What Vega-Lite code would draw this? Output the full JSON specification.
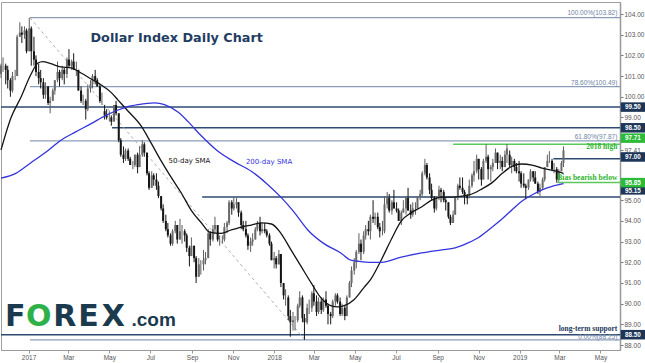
{
 "$schema": "https://vega.github.io/schema/vega-lite/v6.json",
 "width": 619, "height": 348,
 "autosize": {"type": "none"},
 "padding": {"left": 1, "top": 2, "right": 25, "bottom": 13},
 "background": "white",
 "config": {"view": {"stroke": "#a0a0a0", "strokeWidth": 1}, "font": "Liberation Sans"},
 "datasets": {
  "lv": [
   {"p":103.82,"t":"2017-01-03","e":"2019-05-30","k":"f"},
   {"p":100.49,"t":"2017-01-03","e":"2019-05-30","k":"f"},
   {"p":97.87,"t":"2017-01-03","e":"2019-05-30","k":"f"},
   {"p":88.25,"t":"2017-01-03","e":"2019-05-30","k":"f"},
   {"p":99.5,"t":"2016-11-21","e":"2019-05-30","k":"n"},
   {"p":98.5,"t":"2017-05-05","e":"2019-05-30","k":"n"},
   {"p":97.0,"t":"2019-02-20","e":"2019-05-30","k":"n"},
   {"p":95.15,"t":"2017-09-16","e":"2019-05-30","k":"n"},
   {"p":88.5,"t":"2016-11-21","e":"2019-05-30","k":"n"},
   {"p":97.71,"t":"2018-09-24","e":"2019-05-30","k":"g"},
   {"p":95.85,"t":"2019-02-26","e":"2019-05-30","k":"g"}
  ],
  "cd": [
   {"t":"2016-11-21","o":101.1,"h":101.6,"l":100.9,"c":101.5},
   {"t":"2016-11-24","o":101.5,"h":101.9,"l":101.2,"c":101.5},
   {"t":"2016-11-28","o":101.5,"h":101.6,"l":100.6,"c":101.3},
   {"t":"2016-12-01","o":101.3,"h":101.5,"l":100.4,"c":100.8},
   {"t":"2016-12-05","o":100.8,"h":100.9,"l":100.0,"c":100.3},
   {"t":"2016-12-08","o":100.3,"h":101.2,"l":100.2,"c":101.0},
   {"t":"2016-12-12","o":101.0,"h":101.3,"l":100.8,"c":101.0},
   {"t":"2016-12-15","o":101.0,"h":103.0,"l":101.0,"c":102.9},
   {"t":"2016-12-19","o":102.9,"h":103.6,"l":102.9,"c":103.1},
   {"t":"2016-12-22","o":103.1,"h":103.4,"l":102.6,"c":103.0},
   {"t":"2016-12-26","o":103.0,"h":103.4,"l":102.8,"c":103.2},
   {"t":"2016-12-29","o":103.2,"h":103.3,"l":102.1,"c":102.2},
   {"t":"2017-01-02","o":102.2,"h":103.82,"l":102.2,"c":103.3},
   {"t":"2017-01-05","o":103.3,"h":103.4,"l":101.5,"c":102.2},
   {"t":"2017-01-09","o":102.2,"h":102.9,"l":101.5,"c":101.8},
   {"t":"2017-01-12","o":101.8,"h":102.0,"l":101.0,"c":101.2},
   {"t":"2017-01-16","o":101.2,"h":101.6,"l":100.6,"c":100.9},
   {"t":"2017-01-19","o":100.9,"h":101.3,"l":100.4,"c":100.7},
   {"t":"2017-01-23","o":100.7,"h":100.9,"l":99.9,"c":100.1},
   {"t":"2017-01-26","o":100.1,"h":100.7,"l":99.9,"c":100.5},
   {"t":"2017-01-30","o":100.5,"h":100.5,"l":99.6,"c":99.7},
   {"t":"2017-02-02","o":99.7,"h":100.0,"l":99.2,"c":99.8},
   {"t":"2017-02-06","o":99.8,"h":100.4,"l":99.8,"c":100.3},
   {"t":"2017-02-09","o":100.3,"h":100.8,"l":100.1,"c":100.8},
   {"t":"2017-02-13","o":100.8,"h":101.7,"l":100.7,"c":101.2},
   {"t":"2017-02-16","o":101.2,"h":101.3,"l":100.5,"c":100.9},
   {"t":"2017-02-20","o":100.9,"h":101.5,"l":100.8,"c":101.3},
   {"t":"2017-02-23","o":101.3,"h":101.4,"l":100.6,"c":101.1},
   {"t":"2017-02-27","o":101.1,"h":101.9,"l":100.9,"c":101.8},
   {"t":"2017-03-02","o":101.8,"h":102.3,"l":101.4,"c":101.5},
   {"t":"2017-03-06","o":101.5,"h":101.8,"l":101.3,"c":101.7},
   {"t":"2017-03-09","o":101.7,"h":102.1,"l":101.3,"c":101.3},
   {"t":"2017-03-13","o":101.3,"h":101.7,"l":101.0,"c":101.3},
   {"t":"2017-03-16","o":101.3,"h":101.3,"l":100.3,"c":100.3},
   {"t":"2017-03-20","o":100.3,"h":100.5,"l":99.7,"c":99.8},
   {"t":"2017-03-23","o":99.8,"h":100.1,"l":99.6,"c":99.8},
   {"t":"2017-03-27","o":99.8,"h":99.9,"l":98.9,"c":99.4},
   {"t":"2017-03-30","o":99.4,"h":100.6,"l":99.3,"c":100.4},
   {"t":"2017-04-03","o":100.4,"h":100.8,"l":100.2,"c":100.6},
   {"t":"2017-04-06","o":100.6,"h":101.1,"l":100.4,"c":101.0},
   {"t":"2017-04-10","o":101.0,"h":101.3,"l":100.6,"c":100.8},
   {"t":"2017-04-13","o":100.8,"h":100.9,"l":100.5,"c":100.5},
   {"t":"2017-04-17","o":100.5,"h":100.6,"l":99.7,"c":99.8},
   {"t":"2017-04-20","o":99.8,"h":100.2,"l":99.6,"c":99.8},
   {"t":"2017-04-24","o":99.3,"h":99.6,"l":98.9,"c":99.1},
   {"t":"2017-04-27","o":99.1,"h":99.4,"l":98.9,"c":99.0},
   {"t":"2017-05-01","o":99.0,"h":99.3,"l":98.8,"c":99.0},
   {"t":"2017-05-04","o":99.0,"h":99.1,"l":98.6,"c":98.8},
   {"t":"2017-05-08","o":98.8,"h":99.6,"l":98.8,"c":99.6},
   {"t":"2017-05-11","o":99.6,"h":99.8,"l":99.1,"c":99.2},
   {"t":"2017-05-15","o":99.2,"h":99.2,"l":97.8,"c":97.9},
   {"t":"2017-05-18","o":97.9,"h":98.0,"l":97.1,"c":97.2},
   {"t":"2017-05-22","o":97.2,"h":97.6,"l":96.8,"c":97.0},
   {"t":"2017-05-25","o":97.0,"h":97.5,"l":96.9,"c":97.4},
   {"t":"2017-05-29","o":97.4,"h":97.5,"l":96.9,"c":97.0},
   {"t":"2017-06-01","o":97.0,"h":97.1,"l":96.7,"c":96.7},
   {"t":"2017-06-05","o":96.7,"h":96.9,"l":96.5,"c":96.7},
   {"t":"2017-06-08","o":96.7,"h":97.2,"l":96.6,"c":97.2},
   {"t":"2017-06-12","o":97.2,"h":97.3,"l":96.3,"c":96.6},
   {"t":"2017-06-15","o":96.6,"h":97.6,"l":96.6,"c":97.2},
   {"t":"2017-06-19","o":97.2,"h":97.9,"l":97.1,"c":97.7},
   {"t":"2017-06-22","o":97.7,"h":97.8,"l":97.1,"c":97.3},
   {"t":"2017-06-26","o":97.3,"h":97.3,"l":96.2,"c":96.3},
   {"t":"2017-06-29","o":96.3,"h":96.4,"l":95.5,"c":95.6},
   {"t":"2017-07-03","o":95.6,"h":96.4,"l":95.6,"c":96.2},
   {"t":"2017-07-06","o":96.2,"h":96.3,"l":95.7,"c":96.0},
   {"t":"2017-07-10","o":96.0,"h":96.3,"l":95.5,"c":95.7},
   {"t":"2017-07-13","o":95.7,"h":95.9,"l":95.1,"c":95.2},
   {"t":"2017-07-17","o":95.2,"h":95.2,"l":94.5,"c":94.6},
   {"t":"2017-07-20","o":94.6,"h":94.8,"l":93.9,"c":94.0},
   {"t":"2017-07-24","o":94.0,"h":94.3,"l":93.5,"c":93.6},
   {"t":"2017-07-27","o":93.6,"h":93.9,"l":93.2,"c":93.3},
   {"t":"2017-07-31","o":93.3,"h":93.4,"l":92.8,"c":92.9},
   {"t":"2017-08-03","o":92.9,"h":93.6,"l":92.8,"c":93.5},
   {"t":"2017-08-07","o":93.5,"h":94.0,"l":93.4,"c":93.8},
   {"t":"2017-08-10","o":93.8,"h":93.8,"l":92.9,"c":93.1},
   {"t":"2017-08-14","o":93.1,"h":94.1,"l":93.1,"c":93.5},
   {"t":"2017-08-17","o":93.5,"h":93.8,"l":92.9,"c":93.5},
   {"t":"2017-08-21","o":93.5,"h":93.6,"l":93.0,"c":93.3},
   {"t":"2017-08-24","o":93.3,"h":93.4,"l":92.5,"c":92.7},
   {"t":"2017-08-28","o":92.7,"h":92.8,"l":91.8,"c":92.3},
   {"t":"2017-08-31","o":92.3,"h":93.2,"l":92.3,"c":92.8},
   {"t":"2017-09-04","o":92.8,"h":92.8,"l":92.0,"c":92.2},
   {"t":"2017-09-07","o":92.2,"h":92.3,"l":91.0,"c":91.3},
   {"t":"2017-09-11","o":91.3,"h":92.2,"l":91.3,"c":91.9},
   {"t":"2017-09-14","o":91.9,"h":92.1,"l":91.4,"c":91.9},
   {"t":"2017-09-18","o":91.9,"h":92.6,"l":91.6,"c":92.1},
   {"t":"2017-09-21","o":92.1,"h":92.5,"l":91.9,"c":92.2},
   {"t":"2017-09-25","o":92.2,"h":93.6,"l":92.2,"c":93.4},
   {"t":"2017-09-28","o":93.4,"h":93.5,"l":92.8,"c":93.1},
   {"t":"2017-10-02","o":93.1,"h":93.8,"l":93.0,"c":93.6},
   {"t":"2017-10-05","o":93.6,"h":94.2,"l":93.4,"c":93.8},
   {"t":"2017-10-09","o":93.8,"h":93.8,"l":93.0,"c":93.1},
   {"t":"2017-10-12","o":93.1,"h":93.3,"l":92.8,"c":93.1},
   {"t":"2017-10-16","o":93.1,"h":93.3,"l":92.9,"c":93.1},
   {"t":"2017-10-19","o":93.1,"h":93.9,"l":93.0,"c":93.7},
   {"t":"2017-10-23","o":93.7,"h":94.0,"l":93.4,"c":93.9},
   {"t":"2017-10-26","o":93.9,"h":95.0,"l":93.8,"c":94.9},
   {"t":"2017-10-30","o":94.9,"h":95.0,"l":94.3,"c":94.6},
   {"t":"2017-11-02","o":94.6,"h":95.15,"l":94.5,"c":94.8},
   {"t":"2017-11-06","o":94.8,"h":95.1,"l":94.6,"c":94.9},
   {"t":"2017-11-09","o":94.9,"h":94.9,"l":94.2,"c":94.4},
   {"t":"2017-11-13","o":94.4,"h":94.5,"l":93.6,"c":93.8},
   {"t":"2017-11-16","o":93.8,"h":94.0,"l":93.5,"c":93.6},
   {"t":"2017-11-20","o":93.6,"h":94.0,"l":93.2,"c":93.3},
   {"t":"2017-11-23","o":93.3,"h":93.4,"l":92.6,"c":92.8},
   {"t":"2017-11-27","o":92.8,"h":93.2,"l":92.5,"c":93.0},
   {"t":"2017-11-30","o":93.0,"h":93.4,"l":92.8,"c":93.1},
   {"t":"2017-12-04","o":93.1,"h":93.7,"l":93.1,"c":93.6},
   {"t":"2017-12-07","o":93.6,"h":94.0,"l":93.5,"c":93.9},
   {"t":"2017-12-11","o":93.9,"h":94.2,"l":93.3,"c":93.5},
   {"t":"2017-12-14","o":93.5,"h":93.9,"l":93.4,"c":93.6},
   {"t":"2017-12-18","o":93.6,"h":93.9,"l":93.4,"c":93.5},
   {"t":"2017-12-21","o":93.5,"h":93.6,"l":93.2,"c":93.3},
   {"t":"2017-12-25","o":93.3,"h":93.4,"l":92.8,"c":92.9},
   {"t":"2017-12-28","o":92.9,"h":93.0,"l":92.1,"c":92.1},
   {"t":"2018-01-01","o":92.1,"h":92.5,"l":91.7,"c":92.2},
   {"t":"2018-01-04","o":92.2,"h":92.3,"l":91.7,"c":91.9},
   {"t":"2018-01-08","o":91.9,"h":92.6,"l":91.9,"c":92.4},
   {"t":"2018-01-11","o":92.4,"h":92.4,"l":90.8,"c":91.0},
   {"t":"2018-01-15","o":91.0,"h":91.0,"l":90.2,"c":90.4},
   {"t":"2018-01-18","o":90.4,"h":90.7,"l":89.9,"c":90.4},
   {"t":"2018-01-22","o":90.3,"h":90.4,"l":89.2,"c":89.4},
   {"t":"2018-01-25","o":89.4,"h":89.7,"l":88.4,"c":89.1},
   {"t":"2018-01-29","o":89.1,"h":89.6,"l":88.7,"c":89.2},
   {"t":"2018-02-01","o":89.2,"h":89.4,"l":88.7,"c":89.2},
   {"t":"2018-02-05","o":89.2,"h":90.0,"l":89.1,"c":89.9},
   {"t":"2018-02-08","o":89.9,"h":90.6,"l":89.8,"c":90.3},
   {"t":"2018-02-12","o":90.3,"h":90.4,"l":89.1,"c":89.3},
   {"t":"2018-02-15","o":89.3,"h":89.5,"l":88.25,"c":89.1},
   {"t":"2018-02-19","o":89.1,"h":90.0,"l":89.0,"c":89.8},
   {"t":"2018-02-22","o":89.8,"h":90.2,"l":89.5,"c":89.8},
   {"t":"2018-02-26","o":89.8,"h":90.6,"l":89.6,"c":90.5},
   {"t":"2018-03-01","o":90.5,"h":90.9,"l":89.9,"c":90.1},
   {"t":"2018-03-05","o":90.1,"h":90.4,"l":89.4,"c":89.6},
   {"t":"2018-03-08","o":89.6,"h":90.3,"l":89.5,"c":90.1},
   {"t":"2018-03-12","o":90.1,"h":90.3,"l":89.5,"c":89.7},
   {"t":"2018-03-15","o":89.7,"h":90.3,"l":89.6,"c":90.2},
   {"t":"2018-03-19","o":90.2,"h":90.6,"l":89.8,"c":89.9},
   {"t":"2018-03-22","o":89.9,"h":90.0,"l":89.0,"c":89.5},
   {"t":"2018-03-26","o":89.5,"h":89.6,"l":89.0,"c":89.4},
   {"t":"2018-03-29","o":89.4,"h":90.2,"l":89.3,"c":90.1},
   {"t":"2018-04-02","o":90.1,"h":90.5,"l":89.9,"c":90.4},
   {"t":"2018-04-05","o":90.4,"h":90.5,"l":90.0,"c":90.1},
   {"t":"2018-04-09","o":90.1,"h":90.3,"l":89.4,"c":89.5},
   {"t":"2018-04-12","o":89.5,"h":90.0,"l":89.4,"c":89.8},
   {"t":"2018-04-16","o":89.8,"h":89.9,"l":89.2,"c":89.4},
   {"t":"2018-04-19","o":89.4,"h":90.4,"l":89.4,"c":90.3},
   {"t":"2018-04-23","o":90.3,"h":91.1,"l":90.3,"c":91.0},
   {"t":"2018-04-26","o":91.0,"h":91.8,"l":90.8,"c":91.6},
   {"t":"2018-04-30","o":91.6,"h":92.2,"l":91.4,"c":92.0},
   {"t":"2018-05-03","o":92.0,"h":92.6,"l":91.7,"c":92.5},
   {"t":"2018-05-07","o":92.5,"h":93.4,"l":92.4,"c":92.9},
   {"t":"2018-05-10","o":92.9,"h":93.1,"l":92.1,"c":92.5},
   {"t":"2018-05-14","o":92.5,"h":93.5,"l":92.4,"c":93.3},
   {"t":"2018-05-17","o":93.3,"h":93.8,"l":93.1,"c":93.6},
   {"t":"2018-05-21","o":93.6,"h":94.0,"l":93.3,"c":93.5},
   {"t":"2018-05-24","o":93.5,"h":94.3,"l":93.1,"c":94.2},
   {"t":"2018-05-28","o":94.2,"h":95.0,"l":93.9,"c":94.1},
   {"t":"2018-05-31","o":94.1,"h":94.4,"l":93.8,"c":94.2},
   {"t":"2018-06-04","o":94.2,"h":94.4,"l":93.6,"c":93.7},
   {"t":"2018-06-07","o":93.7,"h":93.9,"l":93.2,"c":93.5},
   {"t":"2018-06-11","o":93.5,"h":94.0,"l":93.3,"c":93.5},
   {"t":"2018-06-14","o":93.5,"h":95.2,"l":93.4,"c":94.8},
   {"t":"2018-06-18","o":94.8,"h":95.4,"l":94.6,"c":95.1},
   {"t":"2018-06-21","o":95.1,"h":95.3,"l":94.4,"c":94.5},
   {"t":"2018-06-25","o":94.5,"h":95.0,"l":94.3,"c":94.9},
   {"t":"2018-06-28","o":94.9,"h":95.5,"l":94.6,"c":94.6},
   {"t":"2018-07-02","o":94.6,"h":94.9,"l":94.4,"c":94.5},
   {"t":"2018-07-05","o":94.5,"h":94.6,"l":94.0,"c":94.0},
   {"t":"2018-07-09","o":94.0,"h":94.5,"l":93.8,"c":94.4},
   {"t":"2018-07-12","o":94.4,"h":95.0,"l":94.4,"c":94.6},
   {"t":"2018-07-16","o":94.6,"h":95.2,"l":94.3,"c":95.1},
   {"t":"2018-07-19","o":95.1,"h":95.6,"l":94.5,"c":94.5},
   {"t":"2018-07-23","o":94.5,"h":94.8,"l":94.1,"c":94.3},
   {"t":"2018-07-26","o":94.3,"h":94.9,"l":94.2,"c":94.6},
   {"t":"2018-07-30","o":94.6,"h":94.9,"l":94.3,"c":94.6},
   {"t":"2018-08-02","o":94.6,"h":95.2,"l":94.6,"c":95.2},
   {"t":"2018-08-06","o":95.2,"h":95.5,"l":95.0,"c":95.3},
   {"t":"2018-08-09","o":95.3,"h":96.4,"l":95.2,"c":96.3},
   {"t":"2018-08-13","o":96.3,"h":97.0,"l":96.2,"c":96.7},
   {"t":"2018-08-16","o":96.7,"h":96.8,"l":96.0,"c":96.1},
   {"t":"2018-08-20","o":96.1,"h":96.3,"l":95.3,"c":95.5},
   {"t":"2018-08-23","o":95.5,"h":95.8,"l":95.0,"c":95.1},
   {"t":"2018-08-27","o":95.1,"h":95.2,"l":94.4,"c":94.6},
   {"t":"2018-08-30","o":94.6,"h":95.2,"l":94.5,"c":95.1},
   {"t":"2018-09-03","o":95.1,"h":95.7,"l":95.0,"c":95.5},
   {"t":"2018-09-06","o":95.5,"h":95.6,"l":94.9,"c":95.4},
   {"t":"2018-09-10","o":95.4,"h":95.5,"l":94.9,"c":95.0},
   {"t":"2018-09-13","o":95.0,"h":95.1,"l":94.5,"c":94.9},
   {"t":"2018-09-17","o":94.9,"h":94.9,"l":94.1,"c":94.2},
   {"t":"2018-09-20","o":94.2,"h":94.3,"l":93.8,"c":93.9},
   {"t":"2018-09-24","o":93.9,"h":94.5,"l":93.9,"c":94.3},
   {"t":"2018-09-27","o":94.3,"h":95.2,"l":94.3,"c":95.1},
   {"t":"2018-10-01","o":95.1,"h":95.8,"l":95.0,"c":95.7},
   {"t":"2018-10-04","o":95.7,"h":96.1,"l":95.5,"c":95.6},
   {"t":"2018-10-08","o":95.6,"h":96.1,"l":95.3,"c":95.4},
   {"t":"2018-10-11","o":95.4,"h":95.5,"l":94.8,"c":95.2},
   {"t":"2018-10-15","o":95.2,"h":95.3,"l":94.8,"c":95.1},
   {"t":"2018-10-18","o":95.1,"h":96.0,"l":95.1,"c":95.7},
   {"t":"2018-10-22","o":95.7,"h":96.3,"l":95.6,"c":96.2},
   {"t":"2018-10-25","o":96.2,"h":96.9,"l":95.9,"c":96.4},
   {"t":"2018-10-29","o":96.4,"h":97.2,"l":96.3,"c":97.0},
   {"t":"2018-11-01","o":97.0,"h":97.0,"l":96.0,"c":96.5},
   {"t":"2018-11-05","o":96.5,"h":96.6,"l":95.7,"c":96.0},
   {"t":"2018-11-08","o":96.0,"h":97.0,"l":96.0,"c":96.9},
   {"t":"2018-11-12","o":96.9,"h":97.7,"l":96.8,"c":97.1},
   {"t":"2018-11-15","o":97.1,"h":97.2,"l":96.0,"c":96.5},
   {"t":"2018-11-19","o":96.5,"h":96.7,"l":95.9,"c":96.6},
   {"t":"2018-11-22","o":96.6,"h":97.0,"l":96.4,"c":96.8},
   {"t":"2018-11-26","o":96.8,"h":97.5,"l":96.8,"c":97.3},
   {"t":"2018-11-29","o":97.3,"h":97.3,"l":96.5,"c":96.8},
   {"t":"2018-12-03","o":96.8,"h":97.2,"l":96.5,"c":96.9},
   {"t":"2018-12-06","o":96.9,"h":97.1,"l":96.4,"c":96.6},
   {"t":"2018-12-10","o":96.6,"h":97.4,"l":96.6,"c":97.2},
   {"t":"2018-12-13","o":97.2,"h":97.71,"l":96.8,"c":97.5},
   {"t":"2018-12-17","o":97.2,"h":97.4,"l":96.6,"c":96.7},
   {"t":"2018-12-20","o":96.7,"h":97.1,"l":96.3,"c":96.9},
   {"t":"2018-12-24","o":96.9,"h":97.0,"l":96.4,"c":96.6},
   {"t":"2018-12-27","o":96.6,"h":96.8,"l":96.3,"c":96.4},
   {"t":"2018-12-31","o":96.4,"h":96.9,"l":95.9,"c":96.3},
   {"t":"2019-01-03","o":96.3,"h":96.4,"l":95.6,"c":95.8},
   {"t":"2019-01-07","o":95.8,"h":96.3,"l":95.6,"c":95.7},
   {"t":"2019-01-10","o":95.7,"h":95.8,"l":95.05,"c":95.6},
   {"t":"2019-01-14","o":95.6,"h":96.0,"l":95.5,"c":96.0},
   {"t":"2019-01-17","o":96.0,"h":96.5,"l":95.9,"c":96.4},
   {"t":"2019-01-21","o":96.4,"h":96.4,"l":95.9,"c":96.1},
   {"t":"2019-01-24","o":96.1,"h":96.4,"l":95.8,"c":95.8},
   {"t":"2019-01-28","o":95.8,"h":95.9,"l":95.3,"c":95.4},
   {"t":"2019-01-31","o":95.4,"h":95.8,"l":95.2,"c":95.6},
   {"t":"2019-02-04","o":95.6,"h":96.1,"l":95.5,"c":96.0},
   {"t":"2019-02-07","o":96.0,"h":96.6,"l":95.9,"c":96.6},
   {"t":"2019-02-11","o":96.6,"h":97.2,"l":96.6,"c":96.9},
   {"t":"2019-02-14","o":96.9,"h":97.37,"l":96.8,"c":96.9},
   {"t":"2019-02-18","o":96.9,"h":97.0,"l":96.4,"c":96.5},
   {"t":"2019-02-21","o":96.5,"h":96.8,"l":96.3,"c":96.5},
   {"t":"2019-02-25","o":96.5,"h":96.6,"l":95.85,"c":96.0},
   {"t":"2019-02-28","o":96.0,"h":96.5,"l":95.9,"c":96.4},
   {"t":"2019-03-04","o":96.4,"h":96.9,"l":96.4,"c":96.8},
   {"t":"2019-03-07","o":96.8,"h":97.6,"l":96.6,"c":97.41}
  ],
  "sma": [
   {"t":"2016-11-21","p":97.43,"s":"50"},{"t":"2016-12-06","p":99.0,"s":"50"},{"t":"2016-12-21","p":100.0,"s":"50"},
   {"t":"2017-01-04","p":101.05,"s":"50"},{"t":"2017-01-15","p":101.63,"s":"50"},{"t":"2017-01-22","p":101.7,"s":"50"},
   {"t":"2017-02-03","p":101.6,"s":"50"},{"t":"2017-02-18","p":101.44,"s":"50"},{"t":"2017-03-05","p":101.4,"s":"50"},
   {"t":"2017-03-20","p":101.15,"s":"50"},{"t":"2017-04-04","p":100.86,"s":"50"},{"t":"2017-04-19","p":100.57,"s":"50"},
   {"t":"2017-05-04","p":100.2,"s":"50"},{"t":"2017-05-14","p":99.84,"s":"50"},{"t":"2017-05-29","p":99.3,"s":"50"},
   {"t":"2017-06-17","p":98.6,"s":"50"},{"t":"2017-07-02","p":97.77,"s":"50"},{"t":"2017-07-17","p":96.9,"s":"50"},
   {"t":"2017-08-01","p":96.1,"s":"50"},{"t":"2017-08-16","p":95.35,"s":"50"},{"t":"2017-08-31","p":94.5,"s":"50"},
   {"t":"2017-09-15","p":93.9,"s":"50"},{"t":"2017-09-27","p":93.46,"s":"50"},{"t":"2017-10-14","p":93.4,"s":"50"},
   {"t":"2017-10-29","p":93.56,"s":"50"},{"t":"2017-11-13","p":93.7,"s":"50"},{"t":"2017-11-28","p":93.8,"s":"50"},
   {"t":"2017-12-13","p":93.9,"s":"50"},{"t":"2017-12-28","p":93.85,"s":"50"},{"t":"2018-01-11","p":93.4,"s":"50"},
   {"t":"2018-01-26","p":92.6,"s":"50"},{"t":"2018-02-10","p":91.8,"s":"50"},{"t":"2018-02-25","p":91.0,"s":"50"},
   {"t":"2018-03-11","p":90.3,"s":"50"},{"t":"2018-03-26","p":89.9,"s":"50"},{"t":"2018-04-06","p":89.84,"s":"50"},
   {"t":"2018-04-15","p":89.9,"s":"50"},{"t":"2018-04-30","p":90.2,"s":"50"},{"t":"2018-05-15","p":90.8,"s":"50"},
   {"t":"2018-05-25","p":91.2,"s":"50"},{"t":"2018-06-09","p":92.1,"s":"50"},{"t":"2018-06-24","p":93.1,"s":"50"},
   {"t":"2018-07-09","p":94.0,"s":"50"},{"t":"2018-07-24","p":94.4,"s":"50"},{"t":"2018-08-08","p":94.67,"s":"50"},
   {"t":"2018-08-23","p":95.0,"s":"50"},{"t":"2018-09-07","p":95.15,"s":"50"},{"t":"2018-09-22","p":95.15,"s":"50"},
   {"t":"2018-10-07","p":95.2,"s":"50"},{"t":"2018-10-22","p":95.3,"s":"50"},{"t":"2018-11-06","p":95.55,"s":"50"},
   {"t":"2018-11-21","p":95.85,"s":"50"},{"t":"2018-12-06","p":96.3,"s":"50"},{"t":"2018-12-21","p":96.65,"s":"50"},
   {"t":"2019-01-04","p":96.75,"s":"50"},{"t":"2019-01-19","p":96.7,"s":"50"},{"t":"2019-02-03","p":96.55,"s":"50"},
   {"t":"2019-02-18","p":96.45,"s":"50"},{"t":"2019-03-07","p":96.3,"s":"50"},
   {"t":"2016-11-21","p":96.07,"s":"200"},{"t":"2016-12-13","p":96.3,"s":"200"},{"t":"2017-01-04","p":96.8,"s":"200"},
   {"t":"2017-01-27","p":97.33,"s":"200"},{"t":"2017-02-18","p":97.9,"s":"200"},{"t":"2017-03-12","p":98.3,"s":"200"},
   {"t":"2017-04-04","p":98.7,"s":"200"},{"t":"2017-04-26","p":99.1,"s":"200"},{"t":"2017-05-14","p":99.36,"s":"200"},
   {"t":"2017-05-26","p":99.5,"s":"200"},{"t":"2017-06-13","p":99.62,"s":"200"},{"t":"2017-07-07","p":99.7,"s":"200"},
   {"t":"2017-07-22","p":99.62,"s":"200"},{"t":"2017-08-11","p":99.26,"s":"200"},{"t":"2017-08-26","p":98.8,"s":"200"},
   {"t":"2017-09-15","p":98.1,"s":"200"},{"t":"2017-10-10","p":97.35,"s":"200"},{"t":"2017-11-03","p":96.85,"s":"200"},
   {"t":"2017-11-28","p":96.4,"s":"200"},{"t":"2017-12-21","p":95.8,"s":"200"},{"t":"2018-01-11","p":95.15,"s":"200"},
   {"t":"2018-01-30","p":94.45,"s":"200"},{"t":"2018-02-20","p":93.56,"s":"200"},{"t":"2018-03-16","p":92.9,"s":"200"},
   {"t":"2018-04-10","p":92.45,"s":"200"},{"t":"2018-04-25","p":92.1,"s":"200"},{"t":"2018-05-06","p":92.05,"s":"200"},
   {"t":"2018-05-25","p":92.0,"s":"200"},{"t":"2018-06-09","p":92.0,"s":"200"},{"t":"2018-07-09","p":92.25,"s":"200"},
   {"t":"2018-08-08","p":92.45,"s":"200"},{"t":"2018-09-07","p":92.6,"s":"200"},{"t":"2018-09-27","p":92.7,"s":"200"},
   {"t":"2018-10-17","p":92.95,"s":"200"},{"t":"2018-11-01","p":93.2,"s":"200"},{"t":"2018-11-21","p":93.7,"s":"200"},
   {"t":"2018-12-06","p":94.1,"s":"200"},{"t":"2018-12-21","p":94.55,"s":"200"},{"t":"2019-01-04","p":94.95,"s":"200"},
   {"t":"2019-01-19","p":95.25,"s":"200"},{"t":"2019-02-03","p":95.5,"s":"200"},{"t":"2019-02-18","p":95.67,"s":"200"},
   {"t":"2019-03-07","p":95.8,"s":"200"}
  ]
 },
 "encoding": {
  "x": {"field": "t", "type": "temporal", "title": null,
   "scale": {"type": "utc", "domain": [{"year":2016,"month":11,"date":21,"utc":true},{"year":2019,"month":5,"date":30,"utc":true}]},
   "axis": {"orient": "bottom", "grid": false, "labelFontSize": 6.5, "labelColor": "#555", "tickColor": "#999", "tickSize": 3, "domainColor": "#999", "labelPadding": 1,
    "values": [{"year":2017,"month":1,"date":1,"utc":true},{"year":2017,"month":3,"date":1,"utc":true},{"year":2017,"month":5,"date":1,"utc":true},{"year":2017,"month":7,"date":1,"utc":true},{"year":2017,"month":9,"date":1,"utc":true},{"year":2017,"month":11,"date":1,"utc":true},{"year":2018,"month":1,"date":1,"utc":true},{"year":2018,"month":3,"date":1,"utc":true},{"year":2018,"month":5,"date":1,"utc":true},{"year":2018,"month":7,"date":1,"utc":true},{"year":2018,"month":9,"date":1,"utc":true},{"year":2018,"month":11,"date":1,"utc":true},{"year":2019,"month":1,"date":1,"utc":true},{"year":2019,"month":3,"date":1,"utc":true},{"year":2019,"month":5,"date":1,"utc":true}],
    "labelExpr": "utcmonth(datum.value)==0 ? utcFormat(datum.value,'%Y') : utcFormat(datum.value,'%b')"}},
  "y": {"field": "p", "type": "quantitative", "title": null,
   "scale": {"domain": [87.76, 104.58], "zero": false, "nice": false},
   "axis": {"orient": "right", "grid": false, "format": ".2f", "labelFontSize": 6.5, "labelColor": "#555", "tickColor": "#777", "tickSize": 3, "domainColor": "#999", "domainWidth": 1.5, "labelPadding": 1, "labelOverlap": false,
    "values": [88,89,90,91,92,93,94,95,97.41,99,100,101,102,103,104]}}
 },
 "layer": [
  {"data": {"name": "lv"}, "transform": [{"filter": "datum.k=='f'"}],
   "mark": {"type": "rule", "color": "#8b9dba", "strokeWidth": 1.2},
   "encoding": {"x2": {"field": "e"}}},
  {"data": {"name": "lv"}, "transform": [{"filter": "datum.k=='n'"}],
   "mark": {"type": "rule", "color": "#2d4a70", "strokeWidth": 1.5},
   "encoding": {"x2": {"field": "e"}}},
  {"data": {"name": "lv"}, "transform": [{"filter": "datum.k=='g'"}],
   "mark": {"type": "rule", "color": "#5cc85c", "strokeWidth": 1.5},
   "encoding": {"x2": {"field": "e"}}},
  {"data": {"values": [{"t":"2017-01-03","e":"2018-02-16","p":103.82,"p2":88.25}]},
   "mark": {"type": "rule", "color": "#b0b0b0", "strokeWidth": 1, "strokeDash": [3, 3]},
   "encoding": {"x2": {"field": "e"}, "y2": {"field": "p2"}}},
  {"data": {"name": "cd"},
   "transform": [{"calculate": "datum.l", "as": "p"}],
   "mark": {"type": "rule", "strokeWidth": 1},
   "encoding": {"y2": {"field": "h"},
    "color": {"condition": {"test": "datum.c>=datum.o", "value": "#5e5e5e"}, "value": "#151515"}}},
  {"data": {"name": "cd"},
   "transform": [{"calculate": "datum.o", "as": "p"}],
   "mark": {"type": "rule", "strokeWidth": 2},
   "encoding": {"y2": {"field": "c"},
    "color": {"condition": {"test": "datum.c>=datum.o", "value": "#6a6a6a"}, "value": "#151515"}}},
  {"data": {"name": "sma"},
   "mark": {"type": "line", "strokeWidth": 1.3, "interpolate": "monotone"},
   "encoding": {"color": {"field": "s", "type": "nominal", "legend": null, "scale": {"domain": ["50", "200"], "range": ["#141414", "#3434dc"]}}}},
  {"data": {"values": [{"t":"2017-04-03","p":102.84,"txt":"Dollar Index Daily Chart"}]},
   "mark": {"type": "text", "font": "DejaVu Sans", "fontWeight": "bold", "fontSize": 12.8, "color": "#1f3d63", "align": "left", "baseline": "middle"},
   "encoding": {"text": {"field": "txt"}}},
  {"data": {"values": [{"t":"2017-07-28","p":96.91,"txt":"50-day SMA"}]},
   "mark": {"type": "text", "font": "DejaVu Sans", "fontSize": 7, "color": "#111", "align": "left", "baseline": "middle"},
   "encoding": {"text": {"field": "txt"}}},
  {"data": {"values": [{"t":"2017-11-20","p":96.85,"txt":"200-day SMA"}]},
   "mark": {"type": "text", "font": "DejaVu Sans", "fontSize": 7, "color": "#3434dc", "align": "left", "baseline": "middle"},
   "encoding": {"text": {"field": "txt"}}},
  {"data": {"values": [{"t":"2019-05-26","p":104.05,"txt":"100.00%(103.82)"},{"t":"2019-05-26","p":100.67,"txt":"78.60%(100.49)"},{"t":"2019-05-26","p":98.06,"txt":"61.80%(97.87)"},{"t":"2019-05-26","p":88.41,"txt":"0.00%(88.25)"}]},
   "mark": {"type": "text", "font": "Liberation Sans", "fontSize": 6.5, "color": "#6f84a6", "align": "right", "baseline": "middle"},
   "encoding": {"text": {"field": "txt"}}},
  {"data": {"values": [{"t":"2019-05-26","p":97.57,"txt":"2018 high"},{"t":"2019-05-26","p":96.09,"txt":"Bias bearish below"}]},
   "mark": {"type": "text", "font": "Liberation Serif", "fontWeight": "bold", "fontSize": 7.5, "color": "#2cb52c", "align": "right", "baseline": "middle"},
   "encoding": {"text": {"field": "txt"}}},
  {"data": {"values": [{"t":"2019-05-26","p":88.78,"txt":"long-term support"}]},
   "mark": {"type": "text", "font": "Liberation Serif", "fontWeight": "bold", "fontSize": 7.5, "color": "#1f3a5c", "align": "right", "baseline": "middle"},
   "encoding": {"text": {"field": "txt"}}},
  {"data": {"name": "lv"},
   "transform": [{"filter": "datum.k=='n'"},
    {"calculate": "datum.p==95.15?95.5:datum.p==97?97.09:datum.p", "as": "ly"},
    {"calculate": "datum.ly+0.23", "as": "hi"}, {"calculate": "datum.ly-0.23", "as": "p"},
    {"calculate": "utc(2019,4,31)", "as": "t"}, {"calculate": "utc(2019,6,7)", "as": "e"}],
   "mark": {"type": "rect", "color": "#1d3658", "clip": false},
   "encoding": {"x2": {"field": "e"}, "y2": {"field": "hi"}}},
  {"data": {"name": "lv"},
   "transform": [{"filter": "datum.k=='g'"},
    {"calculate": "datum.p==97.71?98.0:datum.p", "as": "ly"},
    {"calculate": "datum.ly+0.23", "as": "hi"}, {"calculate": "datum.ly-0.23", "as": "p"},
    {"calculate": "utc(2019,4,31)", "as": "t"}, {"calculate": "utc(2019,6,7)", "as": "e"}],
   "mark": {"type": "rect", "color": "#2dbb3a", "clip": false},
   "encoding": {"x2": {"field": "e"}, "y2": {"field": "hi"}}},
  {"data": {"name": "lv"},
   "transform": [{"filter": "datum.k!='f'"},
    {"calculate": "format(datum.p,'.2f')", "as": "lab"},
    {"calculate": "datum.p==95.15?95.45:datum.p==97?97.09:datum.p==97.71?98.0:datum.p", "as": "p"},
    {"calculate": "utc(2019,5,18)", "as": "t"}],
   "mark": {"type": "text", "font": "Liberation Sans", "fontWeight": "bold", "fontSize": 6.3, "color": "white", "align": "center", "baseline": "middle", "clip": false},
   "encoding": {"text": {"field": "lab"}}},
  {"data": {"values": [{"t":"2016-12-12","p":88.93,"txt":"F"},{"t":"2017-02-24","p":88.93,"txt":"R"},{"t":"2017-03-31","p":88.93,"txt":"E"},{"t":"2017-05-07","p":88.93,"txt":"X"}]},
   "mark": {"type": "text", "font": "DejaVu Sans", "fontWeight": "bold", "fontSize": 30, "color": "#1b3a4e", "align": "center", "baseline": "alphabetic"},
   "encoding": {"text": {"field": "txt"}}},
  {"data": {"values": [{"t":"2017-01-16","p":88.93,"txt":"O"}]},
   "mark": {"type": "text", "font": "DejaVu Sans", "fontWeight": "bold", "fontSize": 30, "color": "#2fb14a", "align": "center", "baseline": "alphabetic"},
   "encoding": {"text": {"field": "txt"}}},
  {"data": {"values": [{"t":"2017-06-03","p":88.93,"txt":".com"}]},
   "mark": {"type": "text", "font": "Liberation Sans", "fontWeight": "bold", "fontSize": 19, "color": "#1b3a4e", "align": "left", "baseline": "alphabetic"},
   "encoding": {"text": {"field": "txt"}}}
 ]
}
